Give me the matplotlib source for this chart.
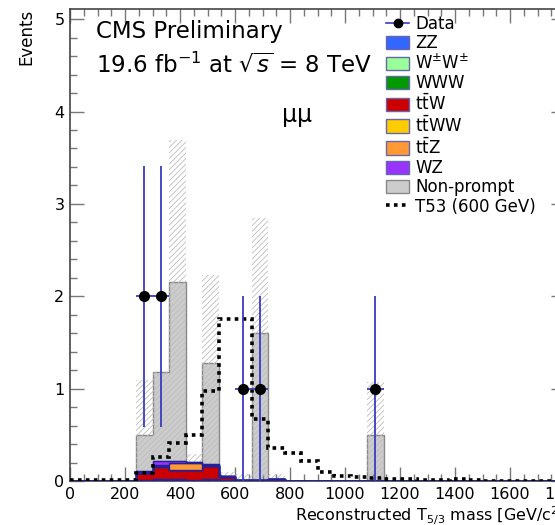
import numpy as np
import matplotlib.pyplot as plt
from matplotlib.lines import Line2D
from matplotlib.patches import Patch
from matplotlib.ticker import MultipleLocator

# 60 GeV bins from 0 to 1800
bin_width = 60
edges = np.arange(0, 1800 + bin_width, bin_width)

# background stack, bottom to top (same order as legend)
zz = [0, 0, 0, 0, .01, .01, .01, .01, .01, .005,
      .005, .005, .005, 0, 0, 0, 0, 0, 0, 0,
      0, 0, 0, 0, 0, 0, 0, 0, 0, 0]
wpwp = [0, 0, 0, 0, .005, .01, .005, .005, .01, .005,
        0, 0, 0, 0, 0, 0, 0, 0, 0, 0,
        0, 0, 0, 0, 0, 0, 0, 0, 0, 0]
www = [0, 0, 0, 0, 0, .003, .003, 0, 0, 0,
       0, 0, 0, 0, 0, 0, 0, 0, 0, 0,
       0, 0, 0, 0, 0, 0, 0, 0, 0, 0]
ttw = [0, 0, 0, 0, .07, .13, .10, .10, .14, .035,
       .005, .005, .015, 0, 0, 0, 0, 0, 0, 0,
       0, 0, 0, 0, 0, 0, 0, 0, 0, 0]
ttww = [0, 0, 0, 0, 0, .005, .005, .005, .005, 0,
        0, 0, 0, 0, 0, 0, 0, 0, 0, 0,
        0, 0, 0, 0, 0, 0, 0, 0, 0, 0]
ttz = [0, 0, 0, 0, .01, .02, .07, .07, .01, .005,
       0, 0, 0, 0, 0, 0, 0, 0, 0, 0,
       0, 0, 0, 0, 0, 0, 0, 0, 0, 0]
wz = [0, 0, 0, 0, .01, .04, .02, .02, .005, .005,
      .005, .005, 0, 0, 0, 0, 0, 0, 0, 0,
      0, 0, 0, 0, 0, 0, 0, 0, 0, 0]
nonprompt = [0, 0, 0, 0, .395, .96, 1.94, 0, 1.10, 0,
             0, 1.585, 0, 0, 0, 0, 0, 0, .50, 0,
             0, 0, 0, 0, 0, 0, 0, 0, 0, 0]

# upper edge of the hatched uncertainty band
band_hi = [0, 0, 0, 0, 1.09, 1.18, 3.69, .29, 2.23, .10,
           .08, 2.85, .08, 0, 0, 0, 0, 0, 1.07, 0,
           0, 0, 0, 0, 0, 0, 0, 0, 0, 0]

# T53 (600 GeV) signal
signal = [.01, .01, .01, .01, .09, .26, .41, .50, .97, 1.75,
          1.75, .67, .36, .30, .22, .10, .05, .04, .03, .02,
          .02, .01, .015, .02, .01, .005, .005, .005, .005, .005]

# data
data_x = [270, 330, 630, 690, 1110]
data_y = [2, 2, 1, 1, 1]
data_err = [1.414, 1.414, 1, 1, 1]

bkg_names = ['ZZ', r'W$^{\pm}$W$^{\pm}$', 'WWW', r'$\mathrm{t\bar{t}W}$',
             r'$\mathrm{t\bar{t}WW}$', r'$\mathrm{t\bar{t}Z}$', 'WZ']
bkg_values = [zz, wpwp, www, ttw, ttww, ttz, wz]
bkg_colors = ['#3366ff', '#99ff99', '#009900', '#cc0000', '#ffcc00',
              '#ff9933', '#9933ff']

plt.rcParams['font.family'] = ['DejaVu Sans']
plt.rcParams['mathtext.fontset'] = 'dejavusans'
plt.rcParams['hatch.linewidth'] = 0.6

fig = plt.figure(figsize=(5.55, 5.25), dpi=100)
ax = fig.add_axes([70 / 555, 44 / 525, 495 / 555, 472 / 525])

# colored backgrounds
bottom = np.zeros(len(edges) - 1)
for vals, col in zip(bkg_values, bkg_colors):
    top = bottom + np.array(vals)
    ax.stairs(top, edges, baseline=bottom, fill=True, facecolor=col,
              edgecolor='#22229a', linewidth=1.0, zorder=3)
    bottom = top

# non-prompt on top
top = bottom + np.array(nonprompt)
ax.stairs(top, edges, baseline=bottom, fill=True, facecolor='#cccccc',
          edgecolor='#888888', linewidth=1.0, zorder=1)

# uncertainty band
ax.stairs(band_hi, edges, baseline=0, fill=True, facecolor='none',
          edgecolor='#bdbdbd', hatch='//////', linewidth=0, zorder=2)

# signal
ax.stairs(signal, edges, baseline=None, color='black',
          linestyle=(0, (1, 1.2)), linewidth=2.6, zorder=4)

# data
ax.errorbar(data_x, data_y, yerr=data_err, xerr=bin_width / 2, fmt='o',
            color='black', ecolor='#3a3ac0', elinewidth=1.3, markersize=7,
            capsize=0, zorder=5)

ax.set_xlim(0, 1800)
ax.set_ylim(0, 5.11)
ax.xaxis.set_major_locator(MultipleLocator(200))
ax.xaxis.set_minor_locator(MultipleLocator(50))
ax.yaxis.set_major_locator(MultipleLocator(1))
ax.yaxis.set_minor_locator(MultipleLocator(0.2))
ax.tick_params(which='both', direction='in', top=True, right=True,
               color='#777777', labelsize=11.5, pad=4)
ax.tick_params(which='major', length=10, width=1.0)
ax.tick_params(which='minor', length=5, width=1.0)
for s in ax.spines.values():
    s.set_color('#444444')
    s.set_linewidth(1.2)

ax.set_ylabel('Events', fontsize=12, loc='top')
ax.yaxis.set_label_coords(-0.069, 1)
ax.set_xlabel(r'Reconstructed T$_{5/3}$ mass [GeV/c$^{2}$]', fontsize=11.5,
              loc='right')
ax.xaxis.set_label_coords(1, -0.049)

fig.text(96 / 555, 1 - 38 / 525, 'CMS Preliminary', fontsize=16.5,
         va='baseline')
fig.text(96 / 555, 1 - 72 / 525, r'19.6 fb$^{-1}$ at $\sqrt{s}$ = 8 TeV',
         fontsize=16.5, va='baseline')
fig.text(297 / 555, 1 - 115 / 525, '\u03bc\u03bc', fontsize=17,
         ha='center', va='center')

handles = [Line2D([], [], color='#3a3ac0', marker='o', mfc='black',
                  mec='black', markersize=6, lw=1.2)]
for col in bkg_colors:
    handles.append(Patch(facecolor=col, edgecolor='#6666aa'))
handles.append(Patch(facecolor='#cccccc', edgecolor='#888888'))
handles.append(Line2D([], [], color='black', linestyle=(0, (1, 1.2)),
                      lw=2.6))
labels = ['Data'] + bkg_names + ['Non-prompt', 'T53 (600 GeV)']
ax.legend(handles, labels, loc='upper left',
          bbox_to_anchor=(386 / 555, 1 - 15 / 525),
          bbox_transform=fig.transFigure, frameon=False, fontsize=12,
          handlelength=1.4, handleheight=0.85, handletextpad=0.35,
          labelspacing=0.08, borderpad=0, borderaxespad=0)

fig.savefig('out.png', dpi=100)
